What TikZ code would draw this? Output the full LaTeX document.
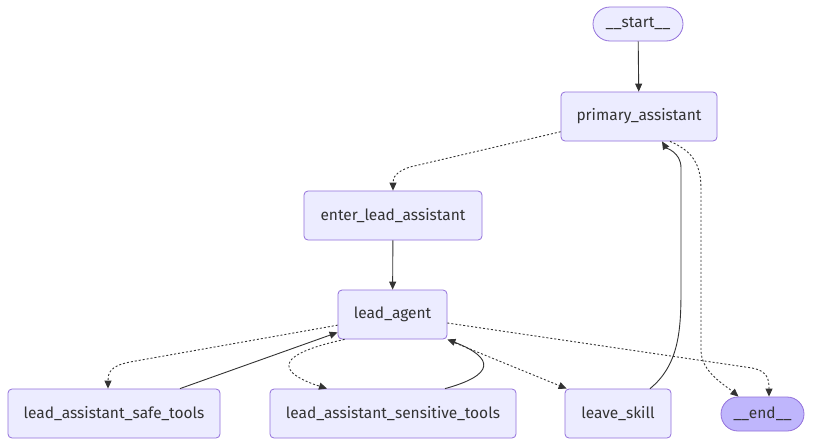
\documentclass[tikz,border=0pt]{standalone}
\usepackage{fontspec}
\setmainfont{Fira Sans}
\usepackage{xcolor}
\definecolor{myfill}{HTML}{ECECFF}
\definecolor{myborder}{HTML}{9370DB}
\definecolor{myedge}{HTML}{333333}
\definecolor{myend}{HTML}{BFB6FC}
\usetikzlibrary{arrows.meta}
\usetikzlibrary{calc}
\tikzset{
  box/.style={draw=myborder, fill=myfill, rounded corners=4pt, line width=0.8pt,
    text=myedge, minimum height=49pt, inner xsep=0pt,
    font=\fontsize{15.5}{18}\selectfont},
  pill/.style={box, rounded corners=17pt, minimum height=34pt},
  flow/.style={draw=myedge, line width=0.9pt, -{Triangle[length=8pt,width=7pt]}},
  cond/.style={flow, dash pattern=on 2pt off 2pt}
}
\begin{document}
\begin{tikzpicture}[x=1pt,y=-1pt]
      \useasboundingbox (0,0) rectangle (813,447);
      \fill[white] (0,0) rectangle (813,447);
      % nodes
      \node[pill, minimum width=90pt] (start) at (638,24) {\_\_start\_\_};
      \node[box, minimum width=156pt] (primary) at (639,116.5) {primary\_assistant};
      \node[box, minimum width=178pt] (enterlead) at (393,215.5) {enter\_lead\_assistant};
      \node[box, minimum width=109pt] (lead) at (392.5,314.5) {lead\_agent};
      \node[box, minimum width=212pt] (safetools) at (114,413.5) {lead\_assistant\_safe\_tools};
      \node[box, minimum width=246pt] (senstools) at (393,413.5) {lead\_assistant\_sensitive\_tools};
      \node[box, minimum width=106pt] (leave) at (618,413.5) {leave\_skill};
      \node[pill, fill=myend, minimum width=83pt] (finish) at (762.5,414) {\_\_end\_\_};

      % edges
      \draw[flow] (start) -- (primary);
      \draw[cond] (primary.191) -- (410,167) .. controls (395,172) and (393,178) .. (enterlead.north);
      \draw[flow] (enterlead) -- (lead);
      \draw[cond] (lead.191) -- (130,362) .. controls (109,366) and (108,374) .. ($(safetools.north)+(-6,0)$);
      \draw[flow] ($(safetools.north)+(66,0)$) -- ($(lead.south west)+(0,-7)$);
      \draw[cond] ($(lead.south west)+(7,0)$) .. controls (250,360) and (300,380) .. ($(senstools.north)+(-66,0)$);
      \draw[flow] ($(senstools.north)+(52,0)$) .. controls (495,375) and (495,358) .. (lead.south east);
      \draw[cond] ($(lead.south east)+(4,2)$) -- ($(leave.north west)+(2,0)$);
      \draw[flow] ($(leave.north)+(32,0)$) .. controls (679,365) and (681,330) .. (681,290)
        -- (681,168) .. controls (681,152) and (666,148) .. ($(primary.south)+(23,0)$);
      \draw[cond] ($(primary.south)+(31,0)$) .. controls (690,150) and (701,162) .. (701,188)
        -- (701,350) .. controls (701,372) and (725,385) .. ($(finish.north)+(-24,0)$);
      \draw[cond] ($(lead.east)+(0,8.5)$) -- (752,368) .. controls (768,371) and (769,380) .. ($(finish.north)+(6.5,0)$);
    \end{tikzpicture}
\end{document}
